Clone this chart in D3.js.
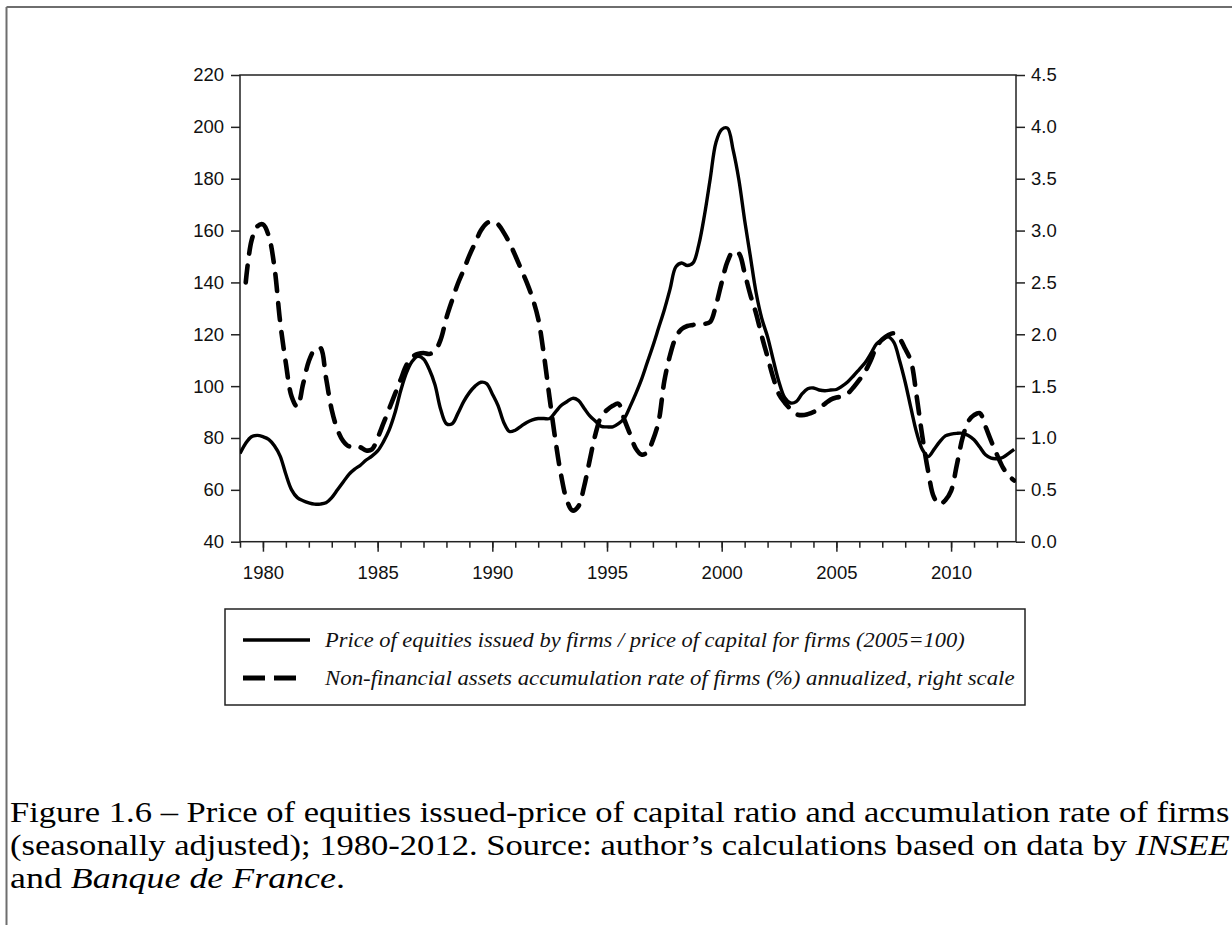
<!DOCTYPE html>
<html><head><meta charset="utf-8">
<script src="https://cdn.jsdelivr.net/npm/d3@7"></script>
<style>body{margin:0;background:#fff}svg{display:block}</style>
</head><body>
<svg id="chart" width="1232" height="925"></svg>
<script>
// ---------- DATA (quarterly, 1979Q1 .. 2012Q4) ----------
const firstYear = 1979;
const lastYear = 2012;
// Price of equities issued by firms / price of capital (2005=100), left scale
const equityRatio = [
  74, 78, 80.5, 81,
  80.5, 79.5, 77, 73,
  66, 60, 57, 55.8,
  55, 54.5, 54.5, 55,
  57, 60, 63, 66,
  68, 69.5, 71.5, 73,
  75, 78.5, 83, 89.5,
  98, 105, 109.5, 111.5,
  110.5, 106.5, 100.5, 91,
  85.5, 85.5, 89.5, 94,
  97.5, 100, 101.5, 101,
  97, 92.5, 86, 82.5,
  83, 84.5, 86, 87,
  87.5, 87.5, 87.5, 90,
  92.5, 94, 95.3, 94.5,
  91.5, 88.5, 86.5, 84.5,
  84.3, 84.3, 85.5, 87.5,
  92, 97, 102.5, 109,
  115.5, 122.5, 129.5, 137.5,
  146, 147.5, 146.5, 147.5,
  154.5, 166, 180, 194,
  199, 199.5, 191, 179.5,
  164, 150, 136, 126,
  119, 110, 101.5, 95.5,
  93.5, 94, 97, 99,
  99.3, 98.5, 98.2, 98.5,
  98.7, 100, 101.7, 104,
  106.5, 109, 112.5, 116.3,
  117.8, 119, 117, 110,
  101.5, 91.5, 82, 75.5,
  72.8, 75.5, 78.5, 80.8,
  81.5, 81.8, 81.8, 81,
  79.3, 76.5, 73.5, 72.2,
  72, 72.5, 74, 75.6
];
// Non-financial assets accumulation rate of firms (%), right scale
const accumulationRate = [
  null, 2.50, 2.90, 3.04,
  3.06, 2.95, 2.65, 2.12,
  1.72, 1.40, 1.30, 1.52,
  1.74, 1.85, 1.87, 1.58,
  1.27, 1.08, 0.97, 0.92,
  0.93, 0.91, 0.88, 0.89,
  1.00, 1.14, 1.28, 1.42,
  1.56, 1.70, 1.78, 1.81,
  1.82, 1.81, 1.84, 1.95,
  2.16, 2.33, 2.49, 2.62,
  2.76, 2.88, 3.00, 3.07,
  3.09, 3.06, 2.98, 2.88,
  2.76, 2.63, 2.50, 2.35,
  2.15, 1.80, 1.38, 0.98,
  0.64, 0.40, 0.30, 0.34,
  0.53, 0.79, 1.04, 1.21,
  1.27, 1.31, 1.33, 1.18,
  1.04, 0.90, 0.84, 0.86,
  0.98, 1.16, 1.55, 1.80,
  1.97, 2.05, 2.08, 2.09,
  2.10, 2.10, 2.12, 2.28,
  2.50, 2.70, 2.80, 2.78,
  2.59, 2.38, 2.20, 1.98,
  1.78, 1.58, 1.42, 1.34,
  1.28, 1.23, 1.22, 1.23,
  1.25, 1.29, 1.33, 1.37,
  1.39, 1.40, 1.43, 1.49,
  1.56, 1.64, 1.75, 1.88,
  1.95, 1.99, 2.01, 1.96,
  1.86, 1.74, 1.40, 1.01,
  0.68, 0.43, 0.36, 0.40,
  0.49, 0.74, 1.00, 1.16,
  1.22, 1.24, 1.11, 0.97,
  0.84, 0.72, 0.64, 0.59
];
const leftTicks = [40, 60, 80, 100, 120, 140, 160, 180, 200, 220];
const rightTicks = [0, 0.5, 1.0, 1.5, 2.0, 2.5, 3.0, 3.5, 4.0, 4.5];
const xMajorTicks = [1980, 1985, 1990, 1995, 2000, 2005, 2010];
const legendLabels = [
  "Price of equities issued by firms / price of capital for firms (2005=100)",
  "Non-financial assets accumulation rate of firms (%) annualized, right scale"
];
const captionLines = [
  [["Figure 1.6 – Price of equities issued-price of capital ratio and accumulation rate of firms", false]],
  [["(seasonally adjusted); 1980-2012. Source: author’s calculations based on data by ", false], ["INSEE", true]],
  [["and ", false], ["Banque de France", true], [".", false]]
];

// ---------- LAYOUT ----------
const svg = d3.select("#chart");
const L = 240, R = 1016, T = 75, B = 541.7;
const quarters = equityRatio.map((_, i) => firstYear + i / 4);

const x = d3.scaleLinear().domain([firstYear, lastYear + 0.83]).range([L, R]);
const yL = d3.scaleLinear().domain([40, 220]).range([B, T]);
const yR = d3.scaleLinear().domain([0, 4.5]).range([B, T]);

// outer frame
svg.append("line").attr("x1", 6.5).attr("y1", 7).attr("x2", 1232).attr("y2", 7)
  .attr("stroke", "#6e6e6e").attr("stroke-width", 2);
svg.append("line").attr("x1", 6.5).attr("y1", 7).attr("x2", 6.5).attr("y2", 925)
  .attr("stroke", "#6e6e6e").attr("stroke-width", 2);

const tickFont = "'Liberation Sans', Arial, sans-serif";
const axisColor = "#222";

function styleAxis(g) {
  g.select(".domain").remove();
  g.selectAll(".tick line").attr("stroke", axisColor).attr("stroke-width", 1.5);
  g.selectAll(".tick text").attr("fill", "#111").style("font-family", tickFont).style("font-size", "18.5px");
}

svg.append("g").attr("transform", `translate(${L},0)`)
  .call(d3.axisLeft(yL).tickValues(leftTicks).tickFormat(d3.format("d")).tickSize(9).tickPadding(7))
  .call(styleAxis);
svg.append("g").attr("transform", `translate(${R},0)`)
  .call(d3.axisRight(yR).tickValues(rightTicks).tickFormat(d3.format(".1f")).tickSize(9).tickPadding(6))
  .call(styleAxis);
svg.append("g").attr("transform", `translate(0,${B})`)
  .call(d3.axisBottom(x).tickValues(d3.range(firstYear, lastYear + 1)).tickFormat("").tickSize(6))
  .call(styleAxis);
svg.append("g").attr("transform", `translate(0,${B})`)
  .call(d3.axisBottom(x).tickValues(xMajorTicks).tickFormat(d3.format("d")).tickSize(10).tickPadding(14))
  .call(styleAxis);

// plot frame
svg.append("rect").attr("x", L).attr("y", T).attr("width", R - L).attr("height", B - T)
  .attr("fill", "none").attr("stroke", axisColor).attr("stroke-width", 1.5);

// lines
svg.append("clipPath").attr("id", "clip").append("rect")
  .attr("x", L).attr("y", T - 5).attr("width", R - L).attr("height", B - T + 10);

const solidLine = d3.line().x((d, i) => x(quarters[i])).y(d => yL(d)).curve(d3.curveCatmullRom);
const dashLine = d3.line().defined(d => d != null).x((d, i) => x(quarters[i])).y(d => yR(d)).curve(d3.curveCatmullRom);

svg.append("path").datum(equityRatio).attr("d", solidLine).attr("clip-path", "url(#clip)")
  .attr("fill", "none").attr("stroke", "#000").attr("stroke-width", 3.4).attr("stroke-linejoin", "round");
svg.append("path").datum(accumulationRate).attr("d", dashLine).attr("clip-path", "url(#clip)")
  .attr("fill", "none").attr("stroke", "#000").attr("stroke-width", 4.6)
  .attr("stroke-dasharray", "17,12").attr("stroke-linecap", "round");

// legend
const lg = svg.append("g");
lg.append("rect").attr("x", 225).attr("y", 609).attr("width", 800).attr("height", 96)
  .attr("fill", "#fff").attr("stroke", "#222").attr("stroke-width", 1.5);
lg.append("line").attr("x1", 243).attr("x2", 310).attr("y1", 640).attr("y2", 640)
  .attr("stroke", "#000").attr("stroke-width", 3.6);
lg.append("line").attr("x1", 243).attr("x2", 296).attr("y1", 678).attr("y2", 678)
  .attr("stroke", "#000").attr("stroke-width", 5).attr("stroke-dasharray", "22,9");

const legendWidths = [640, 690];
const legendBase = [647, 685];
legendLabels.forEach((t, i) => {
  const txt = lg.append("text").attr("x", 0).attr("y", 0)
    .style("font-family", "'Liberation Serif', serif").style("font-style", "italic").style("font-size", "22px")
    .attr("fill", "#111").text(t);
  const w = txt.node().getComputedTextLength();
  txt.attr("transform", `translate(325,${legendBase[i]}) scale(${legendWidths[i] / w},1)`);
});

// caption
const capWidths = [1220, 1220, 335];
const capBase = [822, 855, 888];
captionLines.forEach((parts, i) => {
  const txt = svg.append("text").attr("x", 0).attr("y", 0)
    .style("font-family", "'Liberation Serif', serif").style("font-size", "29px").attr("fill", "#000");
  parts.forEach(([s, it]) => txt.append("tspan").style("font-style", it ? "italic" : "normal").text(s));
  const w = txt.node().getComputedTextLength();
  txt.attr("transform", `translate(10,${capBase[i]}) scale(${capWidths[i] / w},1)`);
});
</script>
</body></html>
